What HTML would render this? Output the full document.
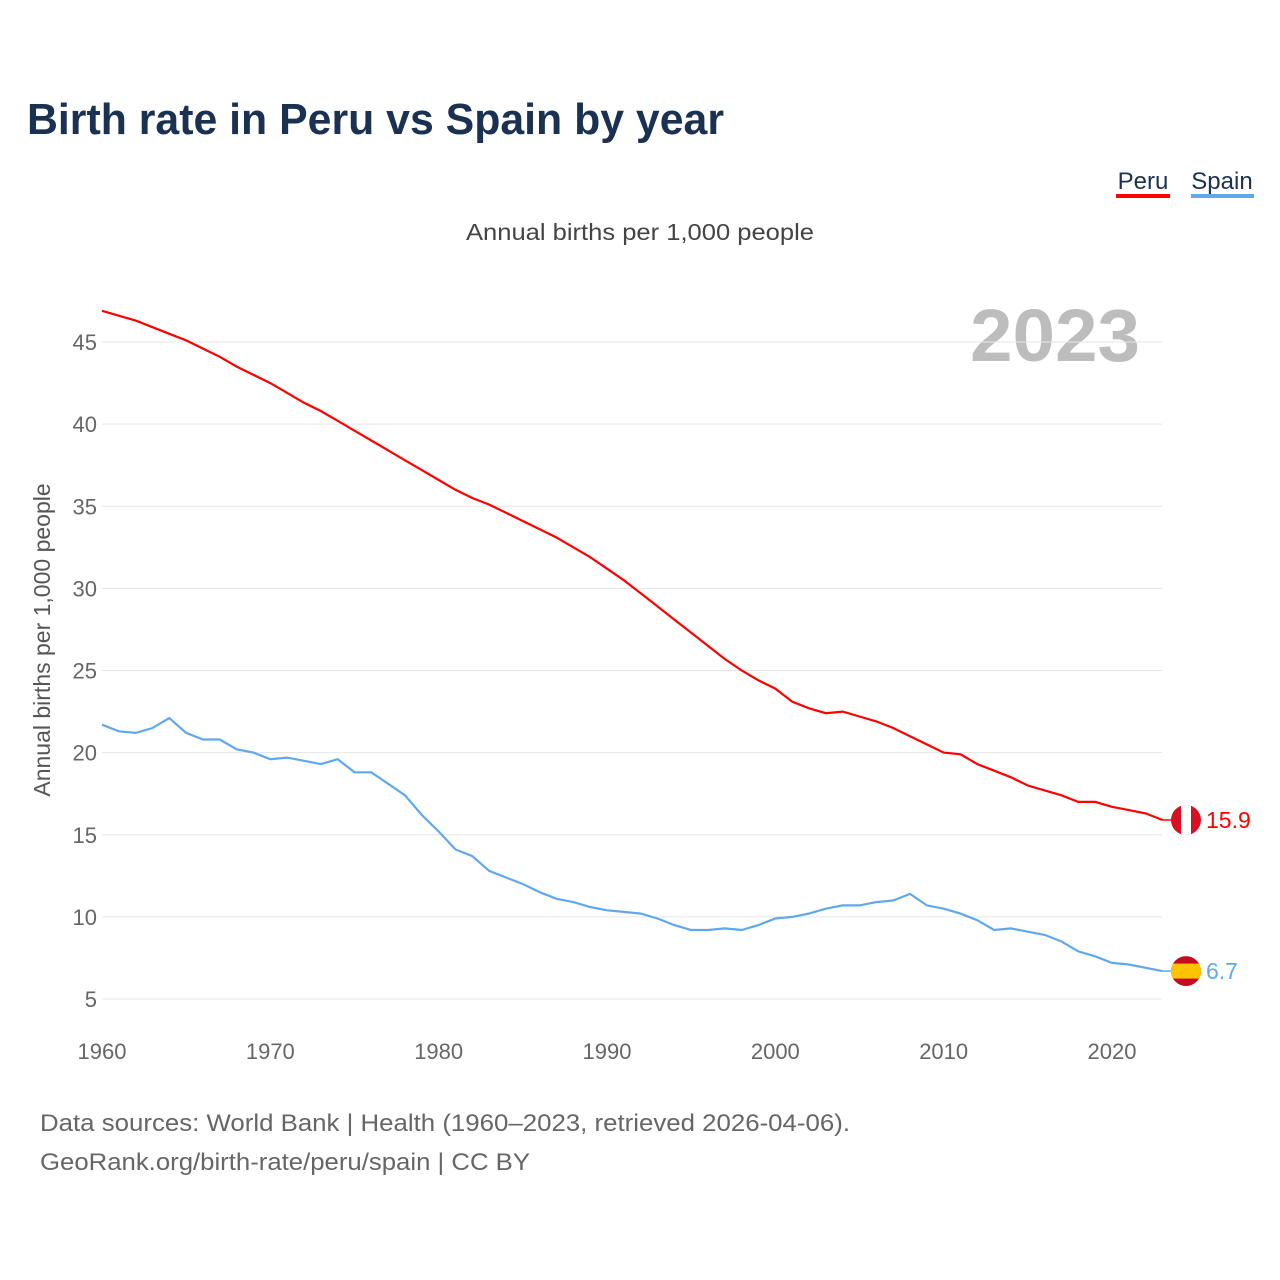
<!DOCTYPE html>
<html><head><meta charset="utf-8"><style>
body{margin:0;background:#fff;font-family:"Liberation Sans",sans-serif;}
#wrap{position:relative;width:1280px;height:1280px;overflow:hidden;}
</style></head><body>
<div id="wrap">
<svg id="chart" width="1280" height="1280">
<text x="27" y="134" font-size="44" font-weight="bold" fill="#1b3152" textLength="697" lengthAdjust="spacingAndGlyphs">Birth rate in Peru vs Spain by year</text>
<g>
<text x="1143" y="189" font-size="24" text-anchor="middle" fill="#1b3152">Peru</text>
<rect x="1116" y="194" width="54" height="4" fill="#ff0000"/>
<text x="1222" y="189" font-size="24" text-anchor="middle" fill="#1b3152">Spain</text>
<rect x="1191" y="194" width="63" height="4" fill="#5fa8ee"/>
</g>
<text x="466" y="240" font-size="23" fill="#444" textLength="348" lengthAdjust="spacingAndGlyphs">Annual births per 1,000 people</text>
<text x="1140" y="361" font-size="74" font-weight="bold" text-anchor="end" fill="#bdbdbd" textLength="170" lengthAdjust="spacingAndGlyphs">2023</text>
<text transform="translate(50,640) rotate(-90)" font-size="23" text-anchor="middle" fill="#555">Annual births per 1,000 people</text>
<g id="grid"></g><g id="lines"></g>
<text x="40" y="1131" font-size="24" fill="#666" textLength="810" lengthAdjust="spacingAndGlyphs">Data sources: World Bank | Health (1960–2023, retrieved 2026-04-06).</text>
<text x="40" y="1170" font-size="24" fill="#666" textLength="490" lengthAdjust="spacingAndGlyphs">GeoRank.org/birth-rate/peru/spain | CC BY</text>
</svg>
</div>
<script>
const years=[];for(let y=1960;y<=2023;y++)years.push(y);
const peru=[46.9,46.6,46.3,45.9,45.5,45.1,44.6,44.1,43.5,43.0,42.5,41.9,41.3,40.8,40.2,39.6,39.0,38.4,37.8,37.2,36.6,36.0,35.5,35.1,34.6,34.1,33.6,33.1,32.5,31.9,31.2,30.5,29.7,28.9,28.1,27.3,26.5,25.7,25.0,24.4,23.9,23.1,22.7,22.4,22.5,22.2,21.9,21.5,21.0,20.5,20.0,19.9,19.3,18.9,18.5,18.0,17.7,17.4,17.0,17.0,16.7,16.5,16.3,15.9];
const spain=[21.7,21.3,21.2,21.5,22.1,21.2,20.8,20.8,20.2,20.0,19.6,19.7,19.5,19.3,19.6,18.8,18.8,18.1,17.4,16.2,15.2,14.1,13.7,12.8,12.4,12.0,11.5,11.1,10.9,10.6,10.4,10.3,10.2,9.9,9.5,9.2,9.2,9.3,9.2,9.5,9.9,10.0,10.2,10.5,10.7,10.7,10.9,11.0,11.4,10.7,10.5,10.2,9.8,9.2,9.3,9.1,8.9,8.5,7.9,7.6,7.2,7.1,6.9,6.7];
const yTicks=[5,10,15,20,25,30,35,40,45];
const xTicks=[1960,1970,1980,1990,2000,2010,2020];
const NS='http://www.w3.org/2000/svg';
const xs=y=>102+(y-1960)*1010/60;
const ys=v=>999-(v-5)*657/40;
function mk(t,a,p){const e=document.createElementNS(NS,t);for(const k in a)e.setAttribute(k,a[k]);p.appendChild(e);return e;}
const g=document.getElementById('grid');
yTicks.forEach(v=>{
 const l=mk('line',{x1:102,x2:1162,y1:ys(v),y2:ys(v),stroke:'#e6e6e6','stroke-width':1},g);
 
 
 const t=mk('text',{x:97,y:ys(v)+8,'font-size':22,'text-anchor':'end',fill:'#666'},g);
 t.textContent=v;
 
 
});
xTicks.forEach(y=>{
 const t=mk('text',{x:xs(y),y:1059,'font-size':22,'text-anchor':'middle',fill:'#666'},g);
 t.textContent=y;
 
 
});
const L=document.getElementById('lines');
function series(arr,color,name,flag){
 const d=arr.map((v,i)=>(i?'L':'M')+xs(years[i]).toFixed(1)+','+ys(v).toFixed(1)).join('');
 const p=mk('path',{d:d,fill:'none',stroke:color,'stroke-width':2.2},L);
 
 
 const last=arr[arr.length-1],lx=xs(2023),ly=ys(last);
 mk('line',{x1:lx,x2:1175,y1:ly,y2:ly,stroke:color,'stroke-width':1.5},L);
 const fg=mk('g',{},L);
 
 
 const cx=1186,r=15;
 const cp=mk('clipPath',{id:'c'+name},fg);mk('circle',{cx:cx,cy:ly,r:r},cp);
 const cg=mk('g',{'clip-path':'url(#c'+name+')'},fg);
 if(flag==='pe'){mk('rect',{x:cx-r,y:ly-r,width:30,height:30,fill:'#d91023'},cg);mk('rect',{x:cx-5,y:ly-r,width:10,height:30,fill:'#fff'},cg);}
 else{mk('rect',{x:cx-r,y:ly-r,width:30,height:30,fill:'#c60b1e'},cg);mk('rect',{x:cx-r,y:ly-7.5,width:30,height:15,fill:'#ffc400'},cg);}
 const t=mk('text',{x:1206,y:ly+8,'font-size':23,fill:color},L);
 t.textContent=last.toFixed(1);
 
 
}
series(peru,'#ff0000','peru','pe');
series(spain,'#5fa8ee','spain','es');
</script>
</body></html>
